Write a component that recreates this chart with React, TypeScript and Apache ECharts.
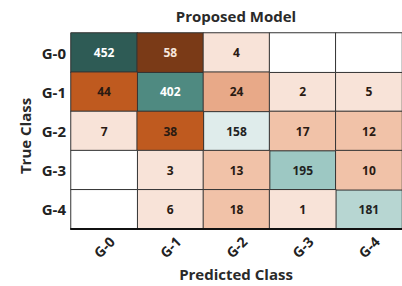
import React, { useEffect, useRef } from "react";
import * as echarts from "echarts";

const predictedClasses = ["G-0", "G-1", "G-2", "G-3", "G-4"];
const trueClasses = ["G-0", "G-1", "G-2", "G-3", "G-4"];
// rows = true class, columns = predicted class; null = empty cell
const row0 = [452, 58, 4, null, null];
const row1 = [44, 402, 24, 2, 5];
const row2 = [7, 38, 158, 17, 12];
const row3 = [null, 3, 13, 195, 10];
const row4 = [null, 6, 18, 1, 181];
const matrix = [row0, row1, row2, row3, row4];

const FONT = "'Open Sans', 'Noto Sans', sans-serif";

export default function App() {
  const ref = useRef<HTMLDivElement>(null);
  useEffect(() => {
    if (!ref.current) return;
    const chart = echarts.init(ref.current, null, { renderer: "svg" });
    const diag: any[] = [];
    const off: any[] = [];
    const empty: any[] = [];
    matrix.forEach((row, y) =>
      row.forEach((v, x) => {
        if (v === null) {
          empty.push([x, y, 0]);
        } else if (x === y) {
          diag.push({ value: [x, y, v], label: { color: v > 300 ? "#ffffff" : "#222222" } });
        } else {
          off.push({ value: [x, y, v], label: { color: v > 50 ? "#f6e6dc" : "#2a1a12" } });
        }
      })
    );
    const itemStyle = { borderColor: "#333333", borderWidth: 1 };
    const label = {
      show: true,
      fontFamily: FONT,
      fontWeight: "bold",
      fontSize: 12,
      formatter: (p: any) => String(p.value[2]),
    };
    chart.setOption({
      animation: false,
      grid: { left: 71, top: 33, width: 335, height: 196 },
      xAxis: {
        type: "category",
        data: predictedClasses,
        axisLine: { show: true, lineStyle: { color: "#111", width: 2 } },
        axisTick: { show: false },
        splitArea: { show: false },
        axisLabel: {
          rotate: 45,
          align: "center",
          verticalAlign: "middle",
          margin: 18,
          fontFamily: FONT,
          fontWeight: "bold",
          fontSize: 14,
          color: "#222",
        },
        z: 10,
      },
      yAxis: {
        type: "category",
        data: trueClasses,
        inverse: true,
        axisLine: { show: false },
        axisTick: { show: false },
        axisLabel: {
          margin: 5,
          fontFamily: FONT,
          fontWeight: "bold",
          fontSize: 15,
          color: "#222",
        },
      },
      visualMap: [
        {
          type: "piecewise",
          show: false,
          seriesIndex: 0,
          pieces: [
            { min: 0, max: 170, color: "#dfeceb" },
            { min: 171, max: 190, color: "#b7d6d2" },
            { min: 191, max: 300, color: "#9dc8c3" },
            { min: 301, max: 420, color: "#4f8a81" },
            { min: 421, color: "#2e5b55" },
          ],
        },
        {
          type: "piecewise",
          show: false,
          seriesIndex: 1,
          pieces: [
            { min: 0, max: 9, color: "#f8e3d8" },
            { min: 10, max: 20, color: "#f1c2a8" },
            { min: 21, max: 30, color: "#e8a988" },
            { min: 31, max: 50, color: "#bf5a1f" },
            { min: 51, color: "#7a3a17" },
          ],
        },
        {
          type: "piecewise",
          show: false,
          seriesIndex: 2,
          pieces: [{ min: -1, max: 1, color: "#ffffff" }],
        },
      ],
      series: [
        { type: "heatmap", data: diag, itemStyle, label },
        { type: "heatmap", data: off, itemStyle, label },
        { type: "heatmap", data: empty, itemStyle, label: { show: false } },
      ],
      graphic: [
        {
          type: "text",
          x: 236,
          y: 16,
          style: {
            text: "Proposed Model",
            fontFamily: FONT,
            fontWeight: "bold",
            fontSize: 15,
            fill: "#2a2a2a",
            align: "center",
            verticalAlign: "middle",
          },
        },
        {
          type: "text",
          x: 236,
          y: 274,
          style: {
            text: "Predicted Class",
            fontFamily: FONT,
            fontWeight: "bold",
            fontSize: 15,
            fill: "#2a2a2a",
            align: "center",
            verticalAlign: "middle",
          },
        },
        {
          type: "text",
          x: 25,
          y: 136,
          rotation: Math.PI / 2,
          style: {
            text: "True Class",
            fontFamily: FONT,
            fontWeight: "bold",
            fontSize: 15,
            fill: "#2a2a2a",
            align: "center",
            verticalAlign: "middle",
          },
        },
      ],
    });
    return () => chart.dispose();
  }, []);
  return <div ref={ref} style={{ width: 402, height: 286, position: "absolute", left: 0, top: 0 }} />;
}
